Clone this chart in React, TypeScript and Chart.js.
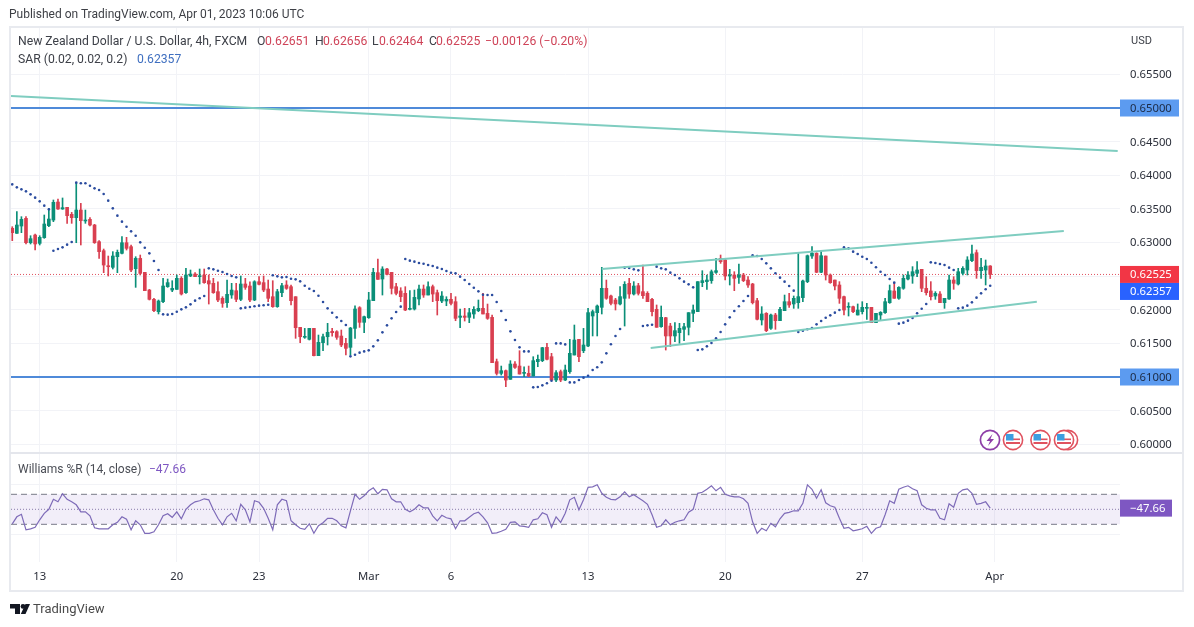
import React, { useEffect, useRef } from "react";
import { Chart, registerables } from "chart.js";

Chart.register(...registerables);

const opens = [0.63211,0.63136,0.63245,0.63359,0.62997,0.63111,0.62987,0.63072,0.6325,0.63334,
0.63602,0.63498,0.63523,0.63419,0.63369,0.63483,0.6332,0.63344,0.6326,0.63012,
0.62878,0.62655,0.62631,0.62789,0.62839,0.62997,0.62938,0.62611,0.62764,0.62556,
0.62293,0.62155,0.61971,0.6212,0.62343,0.62293,0.62303,0.62467,0.62254,0.62502,
0.62531,0.62492,0.62517,0.62432,0.62393,0.62269,0.6217,0.62105,0.62219,0.62283,
0.62155,0.62383,0.62353,0.62145,0.62417,0.62403,0.62308,0.62194,0.62046,0.62254,
0.62368,0.62343,0.62194,0.61738,0.6159,0.6156,0.61723,0.61317,0.6151,0.61599,
0.61679,0.61674,0.61609,0.615,0.61441,0.61723,0.62031,0.61813,0.61882,0.62135,
0.62551,0.62457,0.62606,0.62556,0.62343,0.62279,0.62244,0.62006,0.62011,0.6216,
0.62308,0.62219,0.62343,0.62254,0.6213,0.6213,0.62155,0.6212,0.61887,0.61907,
0.61887,0.61937,0.61986,0.62021,0.61946,0.61887,0.61228,0.61054,0.61094,0.60965,
0.61193,0.61163,0.61054,0.61054,0.61015,0.61228,0.61243,0.61441,0.61302,0.60955,
0.61079,0.60955,0.61079,0.61327,0.6156,0.61391,0.61461,0.61907,0.61957,0.62036,
0.62319,0.62205,0.62145,0.62086,0.6217,0.62393,0.62234,0.62358,0.62269,0.62244,
0.62155,0.62006,0.61748,0.61882,0.61758,0.6161,0.61659,0.61709,0.61739,0.61947,
0.61972,0.62403,0.62418,0.62433,0.62556,0.62765,0.6274,0.62502,0.62517,0.62482,
0.62517,0.62442,0.62383,0.62135,0.61848,0.61947,0.61724,0.61922,0.61838,0.61986,
0.6212,0.62086,0.62105,0.6218,0.62418,0.62799,0.62839,0.62557,0.62799,0.62517,
0.62442,0.62368,0.62195,0.62036,0.62046,0.61922,0.61972,0.62021,0.62036,0.61808,
0.61922,0.61957,0.62105,0.62279,0.6217,0.62319,0.62457,0.62502,0.62542,0.62601,
0.62319,0.62279,0.62205,0.62234,0.62105,0.6216,0.62442,0.62383,0.62542,0.62591,
0.6273,0.62849,0.62581,0.62591,0.62651];

const closes = [0.63146,0.6326,0.63344,0.62997,0.63057,0.62978,0.63077,0.63275,0.63349,0.63597,
0.63498,0.63518,0.63399,0.63369,0.63483,0.63325,0.63334,0.6326,0.62997,0.62864,
0.62665,0.6264,0.62799,0.62854,0.62997,0.62913,0.62591,0.62764,0.62541,0.62284,
0.62155,0.61986,0.6213,0.62353,0.62403,0.62318,0.62467,0.62234,0.62517,0.62531,
0.62492,0.62507,0.62403,0.62383,0.62254,0.62145,0.62095,0.62229,0.62293,0.62155,
0.62383,0.62333,0.62145,0.62417,0.62378,0.62293,0.6217,0.62046,0.62269,0.62358,
0.62318,0.62135,0.61733,0.61599,0.61599,0.61723,0.61317,0.61515,0.61599,0.61664,
0.61659,0.6159,0.61476,0.61426,0.61728,0.62011,0.61813,0.61897,0.62145,0.62556,
0.62452,0.62606,0.62526,0.62318,0.62244,0.62194,0.61996,0.62021,0.62184,0.62308,
0.62219,0.62343,0.62234,0.62135,0.62204,0.62155,0.62095,0.61872,0.61907,0.61887,
0.61956,0.62006,0.62021,0.61937,0.61872,0.61213,0.61054,0.61094,0.60955,0.61193,
0.61143,0.61044,0.61069,0.61015,0.61243,0.61263,0.61436,0.61263,0.60955,0.61064,
0.60955,0.61104,0.61352,0.6155,0.61302,0.61476,0.61957,0.61972,0.62056,0.62319,
0.6217,0.62095,0.62086,0.62195,0.62378,0.62234,0.62353,0.62244,0.62209,0.6212,
0.61972,0.61739,0.61887,0.6161,0.6161,0.61689,0.61724,0.61748,0.61957,0.61996,
0.62418,0.62433,0.62442,0.62566,0.62581,0.62715,0.62502,0.62517,0.62467,0.62517,
0.62433,0.62368,0.62105,0.61858,0.61937,0.61689,0.61922,0.61838,0.62006,0.6212,
0.62071,0.6217,0.62195,0.62428,0.62804,0.62839,0.62557,0.62804,0.62517,0.62403,
0.62353,0.6217,0.61996,0.62046,0.61972,0.61996,0.62036,0.62036,0.61808,0.61947,
0.61962,0.6212,0.62284,0.6217,0.62333,0.62467,0.62517,0.62566,0.62591,0.62319,
0.62254,0.62195,0.62244,0.62105,0.6217,0.62442,0.62393,0.62566,0.62616,0.6274,
0.62829,0.62581,0.62631,0.62651,0.62525];

const highs = [0.63235,0.63458,0.63384,0.63384,0.63101,0.63126,0.63101,0.63409,0.63508,0.63632,
0.63647,0.63662,0.63523,0.63448,0.6389,0.63582,0.63483,0.63369,0.6327,0.63027,
0.62903,0.62799,0.62864,0.62888,0.63087,0.63077,0.62963,0.62789,0.62814,0.62556,
0.62303,0.6217,0.62145,0.62467,0.62457,0.62432,0.62517,0.62492,0.62616,0.62591,
0.62551,0.62606,0.62606,0.62517,0.62467,0.62417,0.62194,0.62442,0.62393,0.62393,
0.62502,0.62467,0.62417,0.62432,0.62492,0.62502,0.62442,0.62432,0.62303,0.62393,
0.62432,0.62368,0.62194,0.61738,0.61723,0.61723,0.61723,0.61624,0.61639,0.61798,
0.61723,0.61689,0.61699,0.61575,0.61738,0.6206,0.62046,0.61907,0.62259,0.62616,
0.62754,0.6264,0.62616,0.62556,0.62393,0.62328,0.62343,0.62284,0.62293,0.62368,
0.62368,0.62417,0.62368,0.62293,0.62269,0.62194,0.62244,0.62194,0.62011,0.62021,
0.62021,0.62046,0.62145,0.62244,0.62085,0.61922,0.61267,0.61163,0.61104,0.61243,
0.61228,0.61391,0.61153,0.61163,0.61302,0.61327,0.61441,0.615,0.61352,0.61094,
0.61104,0.61178,0.6156,0.61773,0.6156,0.61723,0.62021,0.61996,0.62071,0.62631,
0.62442,0.62219,0.6217,0.62343,0.62418,0.62467,0.62418,0.62393,0.62666,0.62269,
0.6217,0.62071,0.62056,0.61887,0.61798,0.61808,0.61798,0.61798,0.61957,0.62071,
0.62418,0.62581,0.62517,0.62591,0.62765,0.62814,0.62765,0.62601,0.62566,0.6268,
0.62542,0.62492,0.62393,0.6217,0.62046,0.61957,0.61937,0.61947,0.62036,0.62219,
0.62244,0.62205,0.62849,0.62442,0.62814,0.62938,0.62849,0.62879,0.62799,0.62532,
0.62442,0.62418,0.62205,0.62105,0.62056,0.62086,0.6212,0.62095,0.62036,0.61947,
0.61972,0.6217,0.62368,0.62403,0.62343,0.62517,0.62566,0.62641,0.62715,0.62601,
0.62492,0.62418,0.62269,0.62269,0.6217,0.62517,0.62492,0.62616,0.62641,0.62789,
0.62963,0.62889,0.62765,0.6274,0.62656];

const lows = [0.63027,0.63136,0.63146,0.62978,0.62978,0.62888,0.62963,0.63062,0.63235,0.6331,
0.63493,0.63493,0.63285,0.63285,0.62997,0.62963,0.63285,0.63245,0.62987,0.62764,
0.62551,0.62502,0.62606,0.62551,0.62829,0.62888,0.62566,0.62333,0.62517,0.62284,
0.62145,0.61971,0.61937,0.62105,0.62333,0.62269,0.62303,0.62219,0.62244,0.62492,
0.62492,0.62383,0.62393,0.62085,0.62244,0.6212,0.62036,0.62036,0.6217,0.6212,
0.62135,0.62303,0.6212,0.62135,0.62368,0.62269,0.6212,0.62036,0.62036,0.62194,
0.62303,0.6207,0.61575,0.6151,0.61575,0.6155,0.61312,0.61317,0.61391,0.61476,
0.61609,0.6156,0.61451,0.61327,0.61327,0.61575,0.61738,0.61659,0.61872,0.62135,
0.62452,0.62219,0.62517,0.62234,0.62219,0.6212,0.61986,0.61996,0.61996,0.6207,
0.62184,0.62219,0.6212,0.61922,0.62105,0.6206,0.6207,0.61837,0.61733,0.61832,
0.61808,0.61872,0.61971,0.61937,0.61857,0.61213,0.61029,0.61029,0.60856,0.60965,
0.61129,0.61044,0.61005,0.61005,0.61015,0.61153,0.61228,0.61253,0.60955,0.6093,
0.6093,0.60945,0.61054,0.61327,0.61228,0.61362,0.61451,0.6161,0.6161,0.61937,
0.62155,0.62071,0.61996,0.62071,0.61758,0.6217,0.62219,0.62219,0.6217,0.6212,
0.61907,0.61739,0.61739,0.61401,0.61451,0.61525,0.615,0.6154,0.61625,0.61823,
0.61972,0.62343,0.62304,0.62393,0.62542,0.6269,0.62442,0.62368,0.62284,0.62393,
0.62418,0.62333,0.62086,0.61848,0.61773,0.61674,0.61709,0.61709,0.61838,0.61986,
0.62036,0.62021,0.62021,0.6212,0.62403,0.62765,0.62552,0.62552,0.62442,0.62393,
0.62294,0.62095,0.61922,0.61907,0.61957,0.61922,0.61937,0.61858,0.61808,0.61808,
0.61848,0.61947,0.62095,0.6217,0.62155,0.62304,0.62442,0.62393,0.62492,0.62269,
0.62219,0.62145,0.62155,0.62105,0.62021,0.62155,0.62304,0.62368,0.62517,0.62517,
0.62715,0.62467,0.62467,0.62368,0.62464];

const sarValues = [0.63865,0.6382,0.6379,0.63761,0.63716,0.63667,0.63612,0.63548,0.63493,
0.62878,0.62903,0.62928,0.62968,0.63007,
0.6389,0.6388,0.6388,0.63845,0.63805,0.63781,0.63721,0.63622,0.63508,0.63399,0.6331,0.63235,0.63166,0.63101,0.63002,0.62923,0.62839,0.62725,0.62591,
0.61932,0.61927,0.61937,0.61971,0.62006,0.62036,0.6208,0.62135,0.6217,0.62204,
0.62616,0.62601,0.62581,0.62561,0.62531,0.62502,0.62482,
0.62021,0.62031,0.62041,0.62051,0.62061,0.62066,0.62075,
0.62512,0.62497,0.62482,0.62487,0.62462,0.62452,0.62422,0.62358,0.62313,0.62279,0.62209,0.62115,0.62021,0.61956,0.61887,0.61832,0.61773,
0.61307,0.61332,0.61362,0.61381,0.61396,0.61456,0.61545,0.61664,0.61768,0.61872,0.61966,0.62046,
0.62754,0.6273,0.62715,0.62695,0.62685,0.62665,0.6265,0.62626,0.62606,0.62576,0.62551,0.62541,0.62492,0.62442,0.62383,0.62328,0.62274,0.62224,0.62219,0.62219,0.62115,0.61981,0.61847,0.61679,0.6155,0.61441,0.61381,0.61381,
0.60846,0.60851,0.60876,0.60906,0.60945,
0.615,0.615,0.61485,
0.6092,0.6092,0.60955,0.6099,0.61019,0.61104,0.61144,0.61218,0.61352,0.61486,0.6161,0.61714,
0.62626,0.62621,0.62601,0.62586,
0.61758,0.61768,0.61778,
0.62641,0.62616,0.62601,0.62552,0.62517,0.62467,0.62418,0.62378,0.62333,
0.61401,0.61411,0.61456,0.61506,0.61575,0.61669,0.61783,0.61887,0.61981,0.62051,0.6213,0.62205,
0.62809,0.62799,0.62755,0.6269,0.62616,0.62542,0.62477,0.62418,0.62353,0.62284,
0.61669,0.61689,0.61709,0.61729,0.61783,0.61833,0.61882,0.61917,0.61957,0.61996,
0.62928,0.62913,0.62864,0.62829,0.62789,0.62755,0.627,0.62631,0.62566,0.62517,0.62457,0.62403,
0.61793,0.61808,0.61838,0.61877,0.61947,0.62016,0.62086,
0.62705,0.62695,0.6268,0.62666,0.62626,0.62591,
0.62021,0.62031,0.62061,0.6211,0.6218,0.62244,0.62304,0.62357];

const williamsR = [-79,-65,-60,-91,-89,-86,-71,-58,-50,-30,-35,-19,-30,-35,-41,-55,-55,-63,-87,-89,
-89,-89,-81,-76,-65,-70,-91,-73,-81,-98,-98,-95,-81,-63,-59,-66,-55,-69,-50,-41,
-35,-33,-29,-31,-51,-68,-81,-65,-58,-73,-40,-51,-75,-33,-36,-48,-68,-91,-41,-30,
-33,-73,-81,-88,-90,-79,-98,-83,-77,-68,-68,-73,-83,-87,-53,-20,-30,-23,-13,-7,
-19,-10,-11,-29,-35,-35,-50,-55,-50,-41,-47,-47,-63,-73,-62,-67,-69,-89,-73,-73,
-66,-59,-56,-65,-77,-98,-97,-94,-90,-76,-75,-83,-84,-86,-71,-69,-57,-61,-86,-65,
-76,-58,-31,-26,-51,-31,-6,-5,-1,-18,-26,-30,-31,-25,-15,-25,-21,-27,-33,-40,
-61,-86,-83,-71,-81,-76,-73,-71,-56,-50,-18,-16,-10,-3,-13,-6,-20,-23,-25,-25,
-29,-38,-75,-98,-88,-93,-78,-85,-69,-58,-56,-53,-53,-38,-1,-10,-28,-11,-37,-43,
-46,-68,-88,-86,-93,-91,-89,-84,-98,-88,-85,-61,-33,-38,-10,-6,-3,-9,-13,-41,
-48,-51,-51,-68,-71,-39,-46,-18,-11,-9,-18,-40,-38,-35,-47.66];

const timeTickIndex = [6, 36, 54, 78, 96, 126, 156, 186, 215];
const timeTickLabels = ["13", "20", "23", "Mar", "6", "13", "20", "27", "Apr"];
const priceTicks = [0.6, 0.605, 0.61, 0.615, 0.62, 0.625, 0.63, 0.635, 0.64, 0.645, 0.65, 0.655];
const wrTicks = [0, -100];

const lastClose = 0.62525;
const lastSar = 0.62357;
const lastWr = -47.66;
const supportLevel = 0.61;
const resistanceLevel = 0.65;
const wrUpper = -20;
const wrMiddle = -50;
const wrLower = -80;
const longTrend = [[-0.28, 0.65178], [241.9, 0.64361]];
const channelUpper = [[129, 0.62606], [230.1, 0.63171]];
const channelLower = [[139.7, 0.61431], [224.2, 0.62119]];

const X_MIN = -0.28;
const X_MAX = 242.4;
const UI = "Roboto, 'Noto Sans', sans-serif";
const GREEN = "#0b8f78";
const RED = "#d93f50";
const TEAL = "#7fcdc0";
const BLUE = "#4f8ad9";
const PURPLE = "#7e57c2";
const GRID = "#f2f3f7";
const AXIS_FONT = { family: "'Noto Sans', sans-serif", size: 11.3 };

const hLine = (value: number, color: string, width: number, dash: number[], order: number, yAxisID = "y", extra: any = {}) => ({
  type: "line",
  yAxisID,
  xAxisID: "x",
  data: [{ x: X_MIN, y: value }, { x: X_MAX, y: value }],
  borderColor: color,
  borderWidth: width,
  borderDash: dash,
  pointRadius: 0,
  order,
  ...extra,
});

const segment = (pts: number[][], order: number) => ({
  type: "line",
  yAxisID: "y",
  xAxisID: "x",
  data: pts.map(([x, y]) => ({ x, y })),
  borderColor: TEAL,
  borderWidth: 2,
  pointRadius: 0,
  order,
});

const badgePlugin = {
  id: "badges",
  afterDraw(chart: any) {
    const { ctx, scales } = chart;
    const draw = (cy: number, w: number, bg: string, fg: string, label: string) => {
      ctx.save();
      ctx.fillStyle = bg;
      ctx.fillRect(1120, cy - 8.5, w, 17);
      ctx.fillStyle = fg;
      ctx.font = `${AXIS_FONT.size}px ${AXIS_FONT.family}`;
      ctx.textBaseline = "middle";
      ctx.textAlign = "left";
      ctx.fillText(label, 1130, cy + 0.5);
      ctx.restore();
    };
    const y = scales.y;
    const closeY = y.getPixelForValue(lastClose);
    draw(y.getPixelForValue(resistanceLevel), 59, "#5c9bf0", "#1c2a44", resistanceLevel.toFixed(5));
    draw(y.getPixelForValue(supportLevel), 59, "#5c9bf0", "#1c2a44", supportLevel.toFixed(5));
    draw(closeY, 59, "#f23645", "#ffffff", lastClose.toFixed(5));
    draw(closeY + 17, 59, "#2962ff", "#ffffff", lastSar.toFixed(5));
    draw(scales.w.getPixelForValue(lastWr), 52, PURPLE, "#ffffff", "\u221247.66");
  },
};

function FlagIcon({ cx }: { cx: number }) {
  return (
    <g>
      <circle cx={cx} cy={440} r={9.6} fill="#fff" stroke="#e0525f" strokeWidth={1.6} />
      <rect x={cx - 7} y={436} width={14} height={8} fill="#fff" />
      <rect x={cx - 7} y={442} width={14} height={2} fill="#e0525f" />
      <rect x={cx - 2} y={438.5} width={9} height={1.6} fill="#e0525f" />
      <rect x={cx - 7} y={434} width={7.5} height={6.5} fill="#3d9ee0" />
    </g>
  );
}

export default function App() {
  const ref = useRef<HTMLCanvasElement | null>(null);

  useEffect(() => {
    document.body.style.margin = "0";
    const idx = opens.map((_, i) => i);
    const chart = new Chart(ref.current as HTMLCanvasElement, {
      type: "bar",
      data: {
        datasets: [
          hLine(resistanceLevel, BLUE, 2, [], 20),
          hLine(supportLevel, BLUE, 2, [], 20),
          hLine(lastClose, "#e0505f", 1, [1, 2], 19),
          {
            type: "bar",
            yAxisID: "y",
            xAxisID: "x",
            grouped: false,
            barThickness: 1,
            data: idx.map((i) => ({ x: i, y: [lows[i], highs[i]] })),
            backgroundColor: idx.map((i) => (closes[i] >= opens[i] ? GREEN : RED)),
            order: 10,
          },
          {
            type: "bar",
            yAxisID: "y",
            xAxisID: "x",
            grouped: false,
            barThickness: 3,
            minBarLength: 1,
            data: idx.map((i) => ({ x: i, y: [opens[i], closes[i]] })),
            backgroundColor: idx.map((i) => (closes[i] >= opens[i] ? GREEN : RED)),
            order: 9,
          },
          {
            type: "line",
            yAxisID: "y",
            xAxisID: "x",
            showLine: false,
            data: idx.map((i) => ({ x: i, y: sarValues[i] })),
            pointRadius: 1.3,
            pointBorderWidth: 0,
            pointBackgroundColor: "#2b4c9f",
            order: 5,
          },
          segment(longTrend, 2),
          segment(channelUpper, 2),
          segment(channelLower, 2),
          hLine(wrUpper, "#787b86", 1, [6, 4], 8, "w", { fill: "+1", backgroundColor: "rgba(126,87,194,0.1)" }),
          hLine(wrLower, "#787b86", 1, [6, 4], 8, "w"),
          hLine(wrMiddle, "#8a7fa8", 1, [1, 2], 8, "w"),
          {
            type: "line",
            yAxisID: "w",
            xAxisID: "x",
            data: idx.map((i) => ({ x: i, y: williamsR[i] })),
            borderColor: "#7e6bb8",
            borderWidth: 1.2,
            pointRadius: 0,
            tension: 0,
            order: 3,
          },
        ] as any,
      },
      options: {
        animation: false,
        responsive: false,
        layout: { padding: { left: 11, top: 27, right: 0, bottom: 0 } },
        plugins: { legend: { display: false }, tooltip: { enabled: false } },
        scales: {
          x: {
            type: "linear",
            min: X_MIN,
            max: X_MAX,
            offset: false,
            position: "bottom",
            grid: { color: GRID, offset: false, drawTicks: false },
            border: { display: false },
            afterBuildTicks: (s: any) => {
              s.ticks = timeTickIndex.map((value) => ({ value }));
            },
            afterFit: (s: any) => {
              s.height = 65;
            },
            ticks: {
              autoSkip: false,
              maxRotation: 0,
              padding: 8,
              color: "#2a2e39",
              font: AXIS_FONT,
              callback: (v: any) => timeTickLabels[timeTickIndex.indexOf(v)] ?? "",
            },
          },
          w: {
            type: "linear",
            position: "right",
            weight: -1,
            min: -155.4,
            max: 914.6,
            grid: { color: GRID, drawTicks: false },
            border: { display: false },
            afterBuildTicks: (s: any) => {
              s.ticks = wrTicks.map((value) => ({ value }));
            },
            afterFit: (s: any) => {
              s.width = 0;
            },
            ticks: {
              autoSkip: false,
              padding: 10,
              labelOffset: 0.7,
              color: "#2a2e39",
              font: AXIS_FONT,
              callback: (v: any) => (v < 0 ? "\u2212" + Math.abs(v).toFixed(2) : Number(v).toFixed(2)),
            },
          },
          y: {
            type: "linear",
            position: "right",
            weight: 1,
            min: 0.582491,
            max: 0.662045,
            grid: { color: GRID, drawTicks: false },
            border: { display: false },
            afterBuildTicks: (s: any) => {
              s.ticks = priceTicks.map((value) => ({ value }));
            },
            afterFit: (s: any) => {
              s.width = 74;
            },
            ticks: {
              autoSkip: false,
              padding: 10,
              labelOffset: 0.7,
              color: "#2a2e39",
              font: AXIS_FONT,
              callback: (v: any) => Number(v).toFixed(5),
            },
          },
        },
      } as any,
      plugins: [badgePlugin],
    });
    return () => chart.destroy();
  }, []);

  const text = (left: number, top: number, color: string, size: number, content: string) => (
    <div
      style={{
        position: "absolute",
        left,
        top,
        color,
        fontSize: size,
        fontFamily: UI,
        whiteSpace: "nowrap",
        lineHeight: "14px",
      }}
    >
      {content}
    </div>
  );
  const red = "#cf4358";
  const dark = "#3d4048";
  const hs = 12.2;

  return (
    <div style={{ position: "fixed", left: 0, top: 0, width: 1194, height: 627, background: "#fff", overflow: "hidden" }}>
      <canvas ref={ref} width={1194} height={627} style={{ position: "absolute", left: 0, top: 0 }} />
      <div style={{ position: "absolute", left: 9, top: 26, width: 1171, height: 562, border: "2px solid #e8eaef", pointerEvents: "none" }} />
      <div style={{ position: "absolute", left: 10, top: 452, width: 1172, height: 2, background: "#e4e6ec" }} />
      {text(9, 7, "#3d3f45", 12, "Published on TradingView.com, Apr 01, 2023 10:06 UTC")}
      {text(18, 34, dark, hs, "New Zealand Dollar / U.S. Dollar, 4h, FXCM")}
      {text(257, 34, dark, hs, "O")}
      {text(265, 34, red, hs, "0.62651")}
      {text(315, 34, dark, hs, "H")}
      {text(323, 34, red, hs, "0.62656")}
      {text(372, 34, dark, hs, "L")}
      {text(379, 34, red, hs, "0.62464")}
      {text(429, 34, dark, hs, "C")}
      {text(436, 34, red, hs, "0.62525")}
      {text(485, 34, red, hs, "\u22120.00126 (\u22120.20%)")}
      {text(18, 52, dark, hs, "SAR (0.02, 0.02, 0.2)")}
      {text(137, 52, "#3f6fc0", hs, "0.62357")}
      {text(18, 462, "#4a4d55", 12, "Williams %R (14, close)")}
      {text(149, 462, PURPLE, 12, "\u221247.66")}
      {text(1131, 34, dark, 11, "USD")}
      {text(33, 602, "#4a4a4a", 13, "TradingView")}
      <svg width={1194} height={627} style={{ position: "absolute", left: 0, top: 0, pointerEvents: "none" }}>
        <circle cx={1068} cy={440} r={9.6} fill="#fff" stroke="#e0525f" strokeWidth={1.6} />
        <FlagIcon cx={1064} />
        <FlagIcon cx={1040.5} />
        <FlagIcon cx={1013} />
        <circle cx={990} cy={440} r={9.6} fill="#fff" stroke="#8e3fa8" strokeWidth={1.7} />
        <path d="M992.5 434 L986.5 441 L990 441 L988 446 L994 439 L990.5 439 Z" fill="#8e3fa8" />
        <path d="M10 604 H20 V614 H15 V608.5 H10 Z" fill="#131722" />
        <circle cx={23} cy={606.4} r={2.4} fill="#131722" />
        <path d="M25.5 604 H30 L25.5 614 H20.8 Z" fill="#131722" />
      </svg>
    </div>
  );
}
